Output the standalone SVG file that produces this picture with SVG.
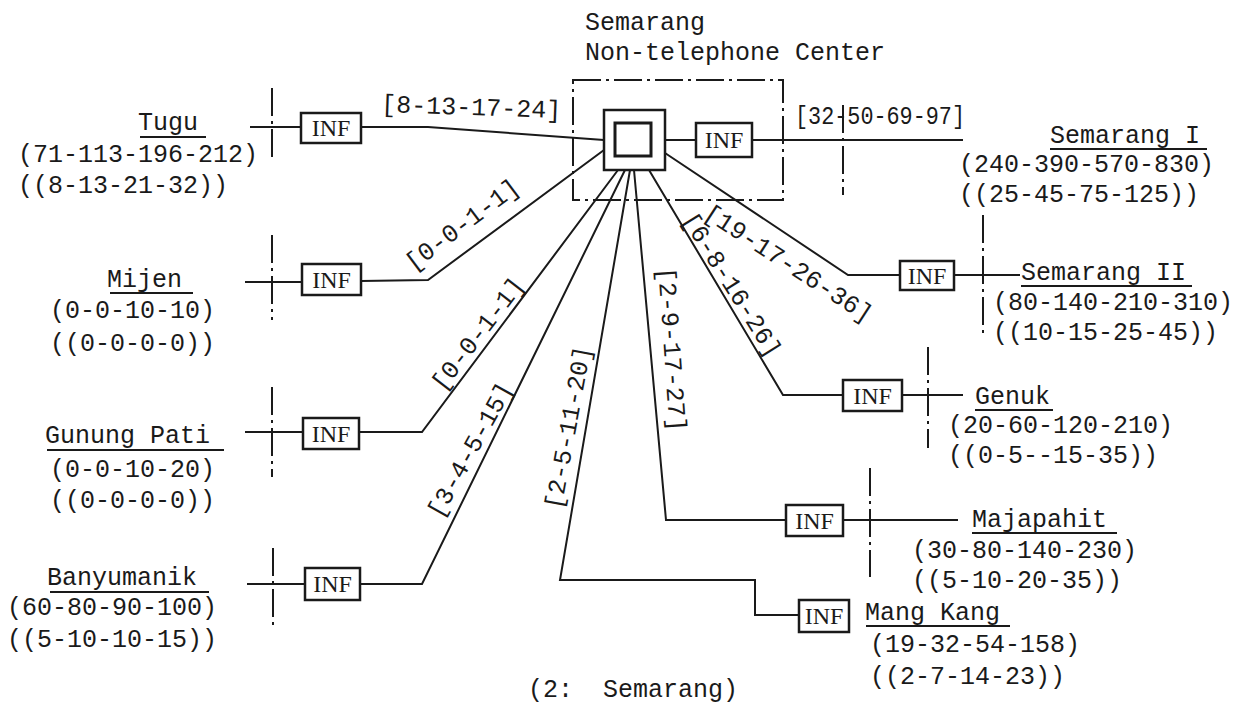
<svg xmlns="http://www.w3.org/2000/svg" width="1245" height="708" viewBox="0 0 1245 708">
<style>
.t{font-family:"Liberation Mono","Courier New",monospace;font-size:25px;fill:#1a1a1a}
.m{text-anchor:middle}
.inf{font-family:"Liberation Serif","Times New Roman",serif;font-size:24px;fill:#1a1a1a;text-anchor:middle}
.box{fill:#fff;stroke:#1a1a1a;stroke-width:2.5}
.ln{fill:none;stroke:#1a1a1a;stroke-width:2}
.ul{stroke:#1a1a1a;stroke-width:1.8}
.dd{fill:none;stroke:#1a1a1a;stroke-width:2;stroke-dasharray:28 5 3 5}
</style>
<rect width="1245" height="708" fill="#fff"/>

<g id="connectors">
  <path class="ln" d="M250,127 H301 M361,127 L428,127 L604,140"/>
  <path class="ln" d="M245,282 H302 M361,281 L428,280 L604,150"/>
  <path class="ln" d="M245,432 H303 M359,432 L422,432 L618,170"/>
  <path class="ln" d="M247,584 H305 M360,584 L422,584 L625,170"/>
  <path class="ln" d="M630,170 L560,580 L755,580 L755,615 L799,615"/>
  <path class="ln" d="M634,170 L666,520 L786,520 M843,520 L958,520"/>
  <path class="ln" d="M649,170 L783,395 L843,395 M902,395 L963,395"/>
  <path class="ln" d="M665,153 L848,275 L900,275 M954,275 L1020,275"/>
  <path class="ln" d="M665,140 L696,140 M752,140 L963,140"/>
  <text class="t m" transform="translate(471,115) rotate(2)">[8-13-17-24]</text>
  <text class="t" x="795" y="124" textLength="170" lengthAdjust="spacingAndGlyphs">[32-50-69-97]</text>
  <text class="t m" transform="translate(467,231) rotate(-37)">[0-0-1-1]</text>
  <text class="t m" transform="translate(484,339) rotate(-52.5)">[0-0-1-1]</text>
  <text class="t m" transform="translate(477,454) rotate(-61)">[3-4-5-15]</text>
  <text class="t m" transform="translate(576,429) rotate(-79.5)">[2-5-11-20]</text>
  <text class="t m" transform="translate(664,350) rotate(86)">[2-9-17-27]</text>
  <text class="t m" transform="translate(725,289) rotate(58)">[6-8-16-26]</text>
  <text class="t m" transform="translate(784,270) rotate(33)">[19-17-26-36]</text>
</g>

<g id="center">
  <text class="t" x="585" y="30">Semarang</text>
  <text class="t" x="585" y="60">Non-telephone Center</text>
  <rect class="dd" x="573" y="80" width="210" height="120"/>
  <rect x="604" y="110" width="61" height="60" fill="#fff" stroke="#1a1a1a" stroke-width="2.5"/>
  <rect x="615" y="123" width="36" height="33" fill="#fff" stroke="#1a1a1a" stroke-width="3"/>
  <rect class="box" x="696" y="123" width="56" height="34"/>
  <text class="inf" x="724" y="148">INF</text>
</g>

<g id="semarang-1">
  <line class="dd" x1="843" y1="105" x2="843" y2="195"/>
  <text class="t" x="1050" y="143">Semarang I</text>
  <line class="ul" x1="1050" y1="149" x2="1207" y2="149"/>
  <text class="t" x="959" y="172">(240-390-570-830)</text>
  <text class="t" x="959" y="202">((25-45-75-125))</text>
</g>

<g id="semarang-2">
  <rect class="box" x="900" y="261" width="54" height="29"/>
  <text class="inf" x="927" y="284">INF</text>
  <line class="dd" x1="983" y1="215" x2="983" y2="337"/>
  <text class="t" x="1021" y="280">Semarang II</text>
  <line class="ul" x1="1021" y1="286" x2="1192" y2="286"/>
  <text class="t" x="993" y="310">(80-140-210-310)</text>
  <text class="t" x="993" y="340">((10-15-25-45))</text>
</g>

<g id="genuk">
  <rect class="box" x="843" y="380" width="59" height="31"/>
  <text class="inf" x="872.5" y="404">INF</text>
  <line class="dd" x1="928" y1="347" x2="928" y2="448"/>
  <text class="t" x="975" y="404">Genuk</text>
  <line class="ul" x1="975" y1="410" x2="1053" y2="410"/>
  <text class="t" x="948" y="433">(20-60-120-210)</text>
  <text class="t" x="948" y="463">((0-5--15-35))</text>
</g>

<g id="majapahit">
  <rect class="box" x="786" y="505" width="57" height="31"/>
  <text class="inf" x="814.5" y="529">INF</text>
  <line class="dd" x1="870" y1="468" x2="870" y2="577"/>
  <text class="t" x="972" y="527">Majapahit</text>
  <line class="ul" x1="972" y1="533" x2="1117" y2="533"/>
  <text class="t" x="912" y="558">(30-80-140-230)</text>
  <text class="t" x="912" y="588">((5-10-20-35))</text>
</g>

<g id="mang-kang">
  <rect class="box" x="799" y="600" width="50" height="32"/>
  <text class="inf" x="824" y="624">INF</text>
  <text class="t" x="865" y="620">Mang Kang</text>
  <line class="ul" x1="866" y1="626" x2="1010" y2="626"/>
  <text class="t" x="870" y="652">(19-32-54-158)</text>
  <text class="t" x="870" y="684">((2-7-14-23))</text>
</g>

<g id="tugu">
  <rect class="box" x="301" y="113" width="60" height="30"/>
  <text class="inf" x="331" y="136">INF</text>
  <line class="dd" x1="272" y1="88" x2="272" y2="157"/>
  <text class="t" x="138" y="130">Tugu</text>
  <line class="ul" x1="140" y1="137" x2="206" y2="137"/>
  <text class="t" x="18" y="162">(71-113-196-212)</text>
  <text class="t" x="18" y="193">((8-13-21-32))</text>
</g>

<g id="mijen">
  <rect class="box" x="302" y="264" width="59" height="31"/>
  <text class="inf" x="331.5" y="288">INF</text>
  <line class="dd" x1="272" y1="235" x2="272" y2="320"/>
  <text class="t" x="107" y="287">Mijen</text>
  <line class="ul" x1="110" y1="293" x2="193" y2="293"/>
  <text class="t" x="50" y="318">(0-0-10-10)</text>
  <text class="t" x="50" y="351">((0-0-0-0))</text>
</g>

<g id="gunung-pati">
  <rect class="box" x="303" y="418" width="56" height="31"/>
  <text class="inf" x="331" y="442">INF</text>
  <line class="dd" x1="272" y1="387" x2="272" y2="477"/>
  <text class="t" x="45" y="443">Gunung Pati</text>
  <line class="ul" x1="47" y1="450" x2="224" y2="450"/>
  <text class="t" x="50" y="477">(0-0-10-20)</text>
  <text class="t" x="50" y="508">((0-0-0-0))</text>
</g>

<g id="banyumanik">
  <rect class="box" x="305" y="568" width="55" height="32"/>
  <text class="inf" x="332.5" y="592">INF</text>
  <line class="dd" x1="273" y1="548" x2="273" y2="625"/>
  <text class="t" x="47" y="585">Banyumanik</text>
  <line class="ul" x1="50" y1="592" x2="209" y2="592"/>
  <text class="t" x="7" y="615">(60-80-90-100)</text>
  <text class="t" x="7" y="647">((5-10-10-15))</text>
</g>

<g id="caption">
  <text class="t" x="528" y="697" xml:space="preserve">(2:  Semarang)</text>
</g>
</svg>
